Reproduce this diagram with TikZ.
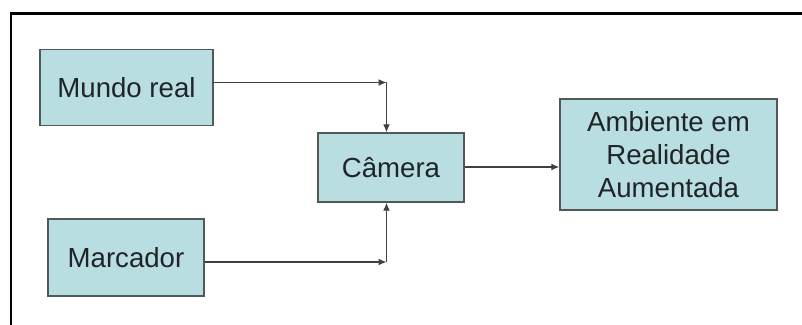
\documentclass[tikz,border=0pt]{standalone}
\usepackage{fontspec}
\setmainfont{Liberation Sans}
\definecolor{boxfill}{HTML}{B9DEE2}
\definecolor{boxline}{HTML}{505858}
\definecolor{textdark}{HTML}{202428}
\usetikzlibrary{arrows.meta, positioning}
\begin{document}
\begin{tikzpicture}[x=0.5pt, y=-0.5pt,
		block/.style = {draw = boxline, fill = boxfill, line width = 0.7pt, text = textdark, align = center, inner sep = 0pt, font = \fontsize{13.8}{16.5}\selectfont},
		link/.style = {draw = black!75, line width = 0.6pt, -{Latex[length = 4pt, width = 3.4pt]}}]
		\useasboundingbox (0,0) rectangle (802,325);
		\draw[line width = 1.1pt] (11,330) -- (11,13.5) -- (810,13.5);
		\node[block, minimum width = 86.5pt, minimum height = 38pt] (mundo) at (126.5,87.5) {Mundo real};
		\node[block, minimum width = 78pt, minimum height = 38.5pt] (marcador) at (126,257.5) {Marcador};
		\node[block, minimum width = 73pt, minimum height = 34.5pt] (camera) at (391,167.5) {Câmera};
		\node[block, minimum width = 108.5pt, minimum height = 55.5pt] (ambiente) at (668.5,154.5) {Ambiente em\\Realidade\\Aumentada};
		\coordinate (cantoA) at (386.5,82.5);
		\coordinate (cantoB) at (386.5,262);
		\draw[link] (mundo.east |- cantoA) -- (cantoA);
		\draw[link] (cantoA) -- (cantoA |- camera.north);
		\draw[link] (marcador.east |- cantoB) -- (cantoB);
		\draw[link] (cantoB) -- (cantoB |- camera.south);
		\draw[link] (camera.east |- 0,167) -- (ambiente.west |- 0,167);
	\end{tikzpicture}
\end{document}
